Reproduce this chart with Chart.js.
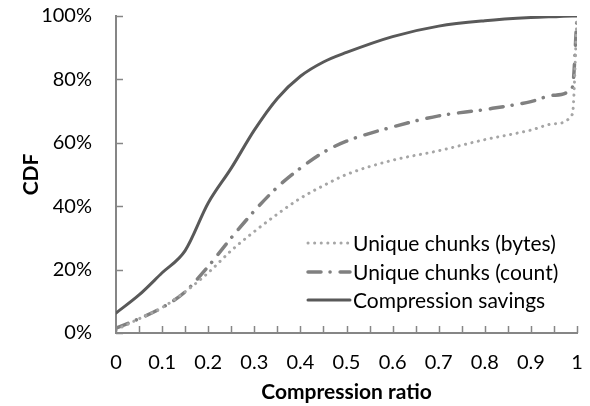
<!DOCTYPE html>
<html>
<head>
<meta charset="utf-8">
<script src="https://cdn.jsdelivr.net/npm/chart.js@4"></script>
<style>
  html, body { margin: 0; padding: 0; background: #fff; }
  #wrap { width: 590px; height: 406px; }
</style>
</head>
<body>
<div id="wrap"><canvas id="chart" width="590" height="406"></canvas></div>
<script>
// compression ratio sample points
const ratios = [0, 0.05, 0.1, 0.15, 0.2, 0.25, 0.3, 0.35, 0.4, 0.45, 0.5, 0.6, 0.7, 0.8, 0.9, 0.95, 0.99, 1];
// CDF values in percent
const bytesCdf = [1, 4.5, 8, 13, 19, 26, 32, 37.5, 42.5, 46.5, 50, 54.5, 57.5, 61, 64, 66, 69, 100];
const countCdf = [1.5, 4.5, 8, 13, 21, 30, 38.5, 46, 52, 57, 60.5, 65, 68.5, 70.5, 73, 75, 77.5, 100];
const savingsCdf = [6.3, 12, 19, 26, 41, 52, 64, 74, 81, 85.5, 88.5, 93.5, 96.8, 98.5, 99.5, 99.8, 100, 100];

const seriesNames = ["Unique chunks (bytes)", "Unique chunks (count)", "Compression savings"];
const yTicks = [0, 20, 40, 60, 80, 100];

const FONT = "Lato, 'Open Sans', sans-serif";

function toPoints(vals) {
  return ratios.map((r, i) => ({ x: r, y: vals[i] }));
}

const styles = [
  { color: "#a6a6a6", width: 3, dash: [0.1, 6.5] },
  { color: "#808080", width: 3.5, dash: [13, 9, 0.1, 10] },
  { color: "#595959", width: 3, dash: [] },
];

// inward ticks + legend inside the plot
const extras = {
  id: "extras",
  afterDraw(chart) {
    const ctx = chart.ctx;
    const xs = chart.scales.x, ys = chart.scales.y;
    ctx.save();
    ctx.strokeStyle = "#868686";
    ctx.lineWidth = 1.5;
    xs.ticks.forEach(t => {
      const px = Math.round(xs.getPixelForValue(t.value)) + 0.5;
      ctx.beginPath();
      ctx.moveTo(px, ys.bottom);
      ctx.lineTo(px, ys.bottom - 7);
      ctx.stroke();
    });
    ys.ticks.forEach(t => {
      const py = Math.round(ys.getPixelForValue(t.value)) + 0.5;
      ctx.beginPath();
      ctx.moveTo(xs.left, py);
      ctx.lineTo(xs.left + 7, py);
      ctx.stroke();
    });

    // legend
    ctx.font = "21px " + FONT;
    ctx.textBaseline = "middle";
    ctx.textAlign = "left";
    const rowsY = [243, 272, 300];
    seriesNames.forEach((name, i) => {
      const s = styles[i];
      ctx.strokeStyle = s.color;
      ctx.lineWidth = s.width;
      ctx.lineCap = "round";
      ctx.setLineDash(s.dash);
      ctx.beginPath();
      ctx.moveTo(308, rowsY[i]);
      ctx.lineTo(350, rowsY[i]);
      ctx.stroke();
      ctx.setLineDash([]);
      ctx.fillStyle = "#000";
      ctx.fillText(name, 353, rowsY[i] + 1);
    });
    ctx.restore();
  }
};

new Chart(document.getElementById("chart").getContext("2d"), {
  type: "line",
  data: {
    datasets: [bytesCdf, countCdf, savingsCdf].map((vals, i) => ({
      label: seriesNames[i],
      data: toPoints(vals),
      borderColor: styles[i].color,
      borderWidth: styles[i].width,
      borderDash: styles[i].dash,
      borderCapStyle: "round",
      cubicInterpolationMode: "monotone",
      pointRadius: 0,
      fill: false,
    })),
  },
  options: {
    responsive: false,
    animation: false,
    layout: { padding: { top: 16, right: 13, left: 0, bottom: 0 } },
    plugins: { legend: { display: false }, tooltip: { enabled: false } },
    scales: {
      x: {
        type: "linear",
        min: 0,
        max: 1,
        afterFit: s => { s.height = 73; s.paddingLeft = 0; s.paddingRight = 0; },
        afterBuildTicks: s => {
          s.ticks = [];
          for (let i = 0; i <= 20; i++) s.ticks.push({ value: i / 20 });
        },
        border: { color: "#868686", width: 2 },
        grid: { display: false, drawTicks: false },
        ticks: {
          color: "#000",
          font: { family: FONT, size: 20 },
          padding: 18,
          maxRotation: 0,
          autoSkip: false,
          callback: v => {
            const k = Math.round(v * 20);
            if (k % 2) return "";
            return String(Math.round(v * 10) / 10);
          },
        },
        title: {
          display: true,
          text: "Compression ratio",
          color: "#000",
          font: { family: FONT, size: 21, weight: "bold" },
          padding: { top: 0, bottom: 1 },
        },
      },
      y: {
        min: 0,
        max: 100,
        afterFit: s => { s.width = 116; s.paddingTop = 0; s.paddingBottom = 0; },
        afterBuildTicks: s => { s.ticks = yTicks.map(v => ({ value: v })); },
        border: { color: "#868686", width: 2 },
        grid: { display: false, drawTicks: false },
        ticks: {
          color: "#000",
          font: { family: FONT, size: 20 },
          padding: 24,
          callback: v => v + "%",
        },
        title: {
          display: true,
          text: "CDF",
          color: "#000",
          font: { family: FONT, size: 21, weight: "bold" },
          padding: { top: 19, bottom: 8 },
        },
      },
    },
  },
  plugins: [extras],
});
</script>
</body>
</html>
